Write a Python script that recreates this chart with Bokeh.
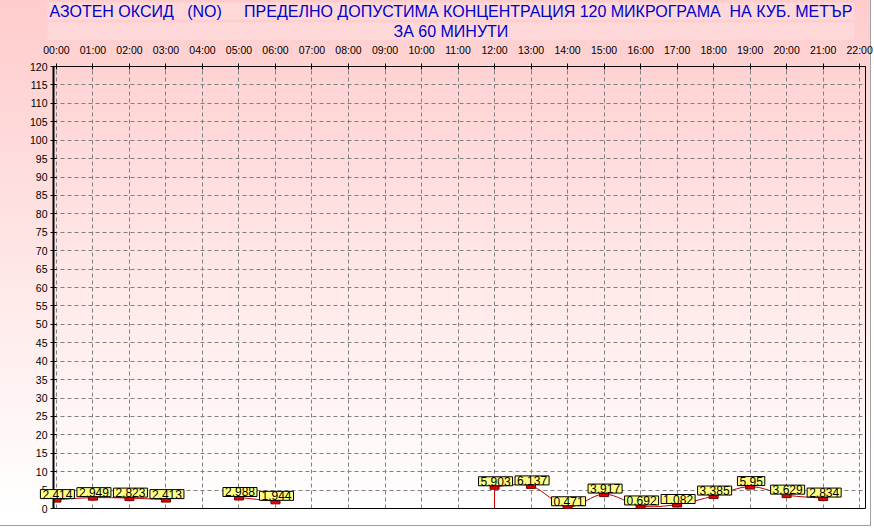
from bokeh.plotting import figure
from bokeh.models import Range1d, FixedTicker, ColumnDataSource, Title
from bokeh.core.properties import value
from bokeh.embed import file_html
from bokeh.resources import INLINE

# ---- data ----
hours = [0, 1, 2, 3, 5, 6, 12, 13, 14, 15, 16, 17, 18, 19, 20, 21]
values = [2.414, 2.949, 2.823, 2.413, 2.988, 1.944, 5.903, 6.137, 0.471,
          3.917, 0.692, 1.082, 3.385, 5.95, 3.629, 2.834]
value_labels = ["2.414", "2.949", "2.823", "2.413", "2.988", "1.944", "5.903", "6.137",
                "0.471", "3.917", "0.692", "1.082", "3.385", "5.95", "3.629", "2.834"]
hour_ticks = list(range(0, 23))
hour_labels = ["00:00", "01:00", "02:00", "03:00", "04:00", "05:00", "06:00", "07:00",
               "08:00", "09:00", "10:00", "11:00", "12:00", "13:00", "14:00", "15:00",
               "16:00", "17:00", "18:00", "19:00", "20:00", "21:00", "22:00"]
y_ticks = list(range(0, 121, 5))
drop_hours = [12]
title_line1 = "АЗОТЕН ОКСИД   (NO)     ПРЕДЕЛНО ДОПУСТИМА КОНЦЕНТРАЦИЯ 120 МИКРОГРАМА  НА КУБ. МЕТЪР"
title_line2 = "ЗА 60 МИНУТИ"

FONT = "Liberation Sans"

p = figure(width=874, height=529, x_range=Range1d(-0.08, 22.16), y_range=Range1d(0, 120),
           x_axis_location="above", output_backend="svg", toolbar_location=None,
           min_border_left=53, min_border_right=9, min_border_top=66, min_border_bottom=21)
p.background_fill_color = None
p.border_fill_color = None
p.styles = {
    "background": "linear-gradient(to bottom, #ffcccc 0%, #ffffff 97%)",
    "box-shadow": "inset -3px -3px 0 0 #ffffff, inset -4px -4px 0 0 #a0a0a0",
}
p.outline_line_color = "black"
p.outline_line_width = 1

# title: two lines on one light box (runs of spaces kept visible)
def style_title(t, pad):
    t.align = "left"
    t.offset = -6
    t.text_color = "#0000CC"
    t.text_font = FONT
    t.text_font_size = "16px"
    t.text_font_style = "normal"
    t.background_fill_color = "#FFD9D9"
    t.padding = pad

p.title.text = title_line1.replace("  ", "\u00a0\u00a0")
style_title(p.title, (2, 0))
p.title.standoff = 0
t2 = Title(text=title_line2)
style_title(t2, (346, 0))
t2.standoff = 2
p.add_layout(t2, "above")

# axes
p.yaxis.ticker = FixedTicker(ticks=y_ticks)
p.yaxis.axis_line_width = 2
p.yaxis.axis_line_color = "black"
p.yaxis.major_tick_in = 3
p.yaxis.major_tick_out = 3
p.yaxis.minor_tick_in = 0
p.yaxis.minor_tick_out = 0
p.yaxis.major_label_standoff = 3
p.yaxis.major_label_text_font = FONT
p.yaxis.major_label_text_font_size = "10.5px"
p.yaxis.major_label_text_color = "black"

p.xaxis.ticker = FixedTicker(ticks=hour_ticks)
p.xaxis.major_label_overrides = dict(zip(hour_ticks, hour_labels))
p.xaxis.axis_line_color = "black"
p.xaxis.major_tick_in = 3
p.xaxis.major_tick_out = 3
p.xaxis.minor_tick_in = 0
p.xaxis.minor_tick_out = 0
p.xaxis.major_label_standoff = 8
p.xaxis.major_label_text_font = FONT
p.xaxis.major_label_text_font_size = "10.5px"
p.xaxis.major_label_text_color = "black"

p.grid.grid_line_color = "#808080"
p.grid.grid_line_dash = "4 3"
p.grid.grid_line_width = 1

# smooth connecting lines per contiguous run (Catmull-Rom as cubic Bezier)
runs = []
cur = []
for h, v in zip(hours, values):
    if cur and h - cur[-1][0] > 1:
        runs.append(cur)
        cur = []
    cur.append((h, v))
runs.append(cur)

bz = dict(x0=[], y0=[], x1=[], y1=[], cx0=[], cy0=[], cx1=[], cy1=[])
for run in runs:
    n = len(run)
    for i in range(n - 1):
        p0 = run[i - 1] if i > 0 else run[i]
        p1 = run[i]
        p2 = run[i + 1]
        p3 = run[i + 2] if i + 2 < n else run[i + 1]
        bz["x0"].append(p1[0]); bz["y0"].append(p1[1])
        bz["x1"].append(p2[0]); bz["y1"].append(p2[1])
        bz["cx0"].append(p1[0] + (p2[0] - p0[0]) / 6.0)
        bz["cy0"].append(p1[1] + (p2[1] - p0[1]) / 6.0)
        bz["cx1"].append(p2[0] - (p3[0] - p1[0]) / 6.0)
        bz["cy1"].append(p2[1] - (p3[1] - p1[1]) / 6.0)
p.bezier(x0="x0", y0="y0", x1="x1", y1="y1", cx0="cx0", cy0="cy0", cx1="cx1", cy1="cy1",
         source=ColumnDataSource(bz), line_color="#C00000", line_width=1)

val_by_hour = dict(zip(hours, values))
p.segment(x0=drop_hours, y0=[0] * len(drop_hours), x1=drop_hours,
          y1=[val_by_hour[h] for h in drop_hours], line_color="#C00000", line_width=1)

src = ColumnDataSource(dict(x=hours, y=values, t=value_labels))
p.rect(x="x", y="y", width=9, height=5, width_units="screen", height_units="screen",
       source=src, fill_color="#E00000", line_color="#700000", line_width=1)

txt = p.text(x="x", y="y", text="t", source=src, text_align="center",
             text_baseline="bottom", x_offset=1, y_offset=-1,
             text_font=value(FONT), text_font_size="12px", text_color="black",
             background_fill_color="#FFFF80", border_line_color="black",
             border_line_width=1, padding=(2, 0))
txt.level = "overlay"

open("out.html", "w").write(file_html(p, INLINE))
